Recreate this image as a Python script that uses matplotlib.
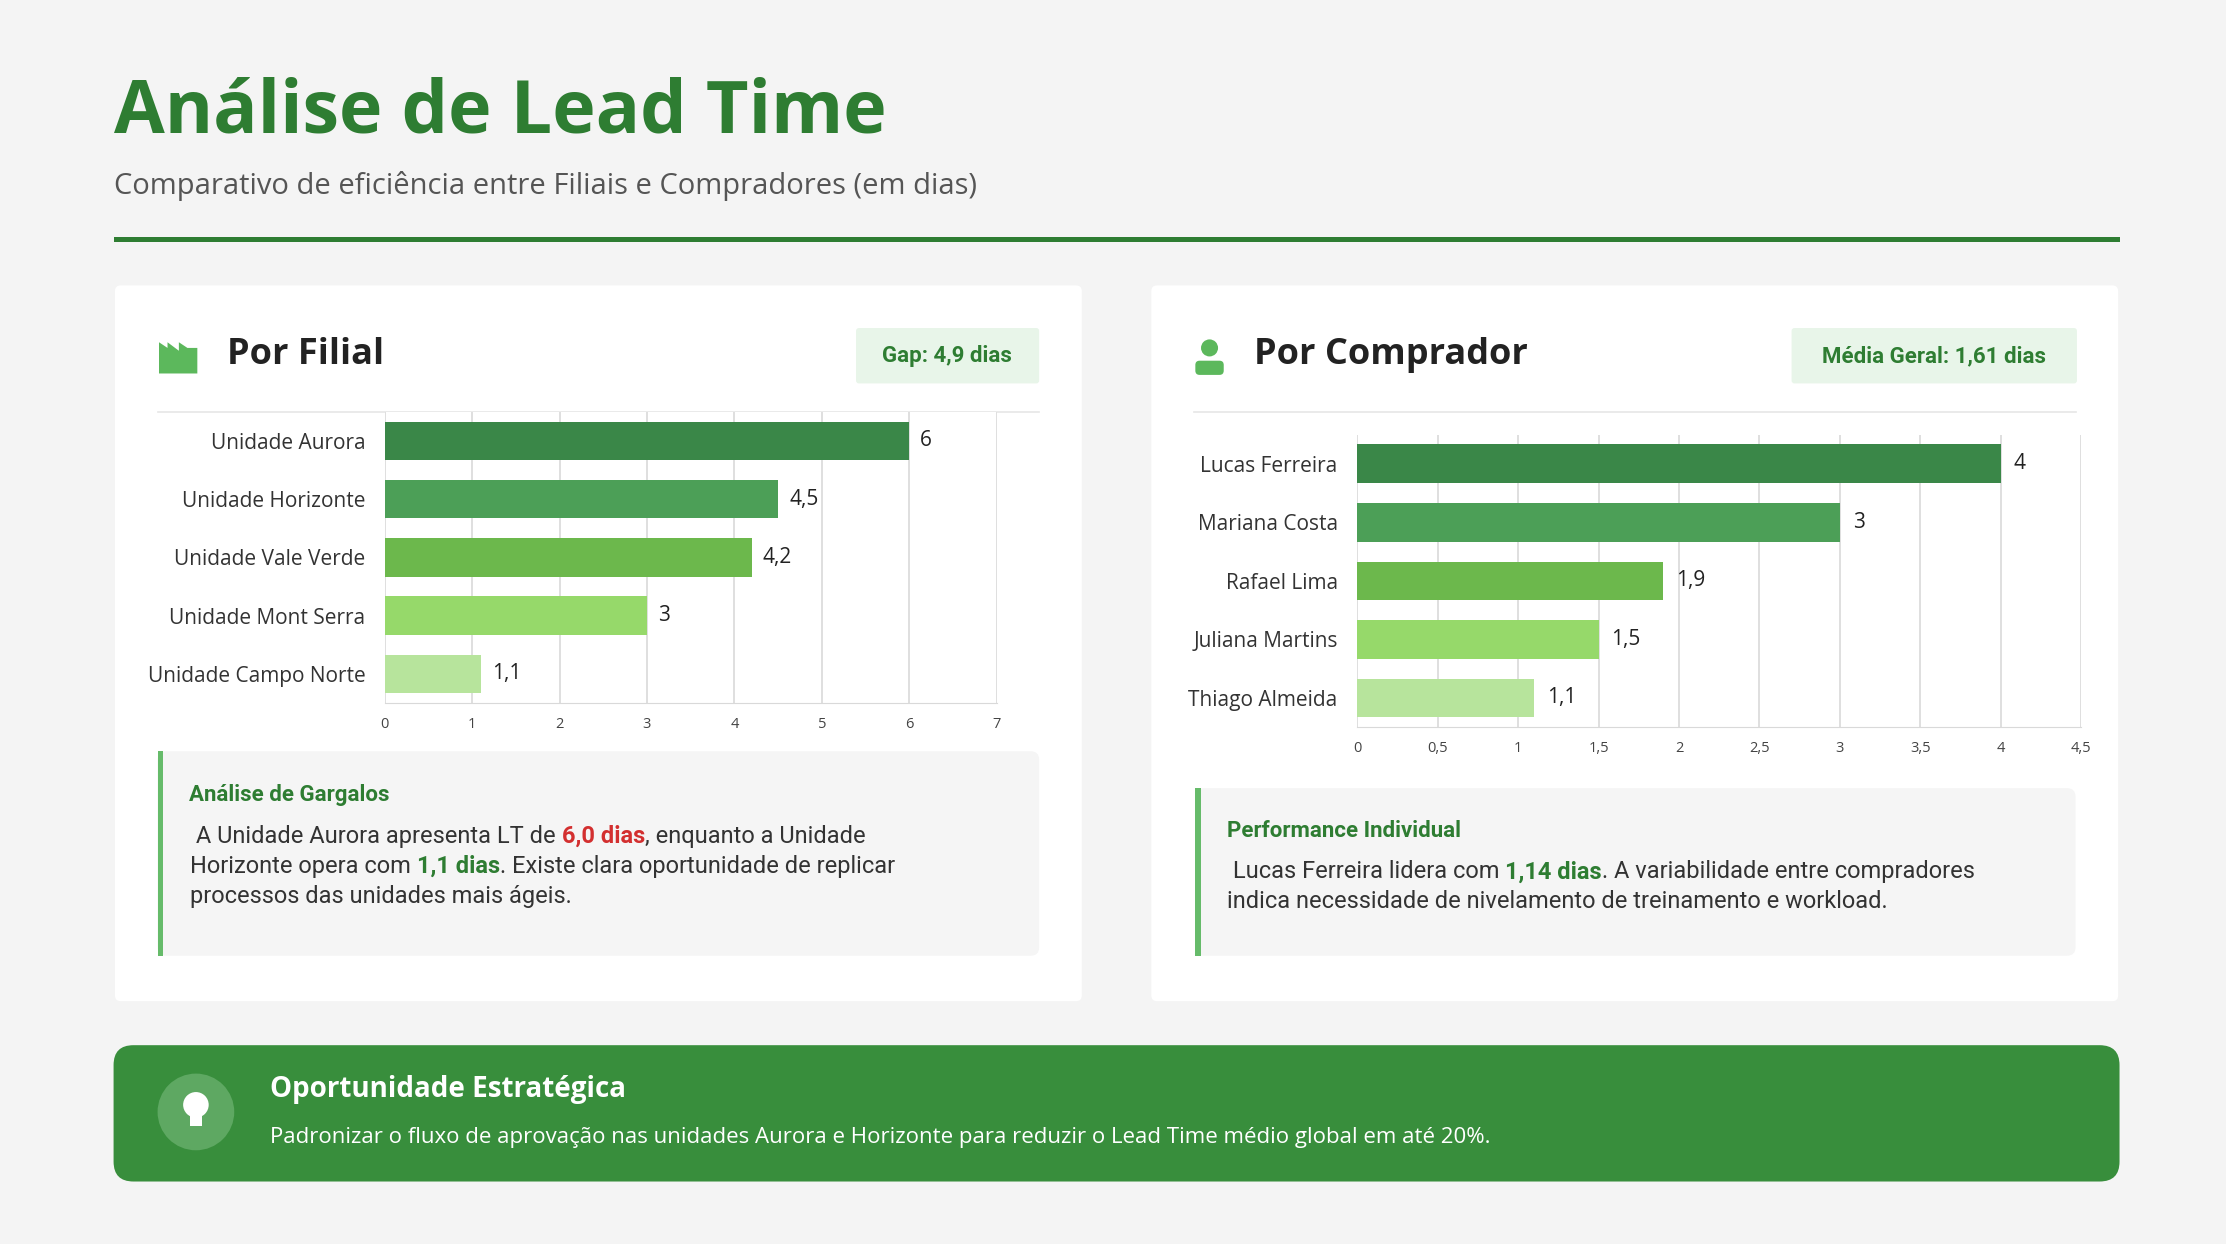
import matplotlib
matplotlib.use("Agg")
from matplotlib import pyplot as plt
from matplotlib.patches import FancyBboxPatch, Rectangle, Circle, Polygon

# data
filiais = ["Unidade Aurora", "Unidade Horizonte", "Unidade Vale Verde", "Unidade Mont Serra", "Unidade Campo Norte"]
lt_filial = [6, 4.5, 4.2, 3, 1.1]
compradores = ["Lucas Ferreira", "Mariana Costa", "Rafael Lima", "Juliana Martins", "Thiago Almeida"]
lt_comprador = [4, 3, 1.9, 1.5, 1.1]
bar_colors = ["#3a8748", "#4c9f57", "#6cb84c", "#96d96a", "#b7e49c"]

W, H = 1568.0, 876.0
GREEN = "#2e7d32"
plt.rcParams['font.family'] = ['Roboto', 'DejaVu Sans']

fig = plt.figure(figsize=(22.26, 12.44), dpi=100)
fig.patch.set_facecolor("#f4f4f4")
bg = fig.add_axes([0, 0, 1, 1])
bg.set_xlim(0, W)
bg.set_ylim(H, 0)
bg.axis("off")


def box(x0, y0, x1, y1, color, r=4, z=1):
    bg.add_patch(FancyBboxPatch((x0, y0), x1 - x0, y1 - y0,
                                boxstyle="round,pad=0,rounding_size=%g" % r,
                                fc=color, ec="none", zorder=z))


def fmt(v):
    return ("%g" % v).replace(".", ",")


renderer = fig.canvas.get_renderer()


def rich(x, y, parts, size):
    for s, c, w in parts:
        t = bg.text(x, y, s, color=c, fontsize=size, fontweight=w, va="center", ha="left", zorder=5)
        bb = t.get_window_extent(renderer)
        x += bb.width / (fig.dpi * 22.26) * W


# header
bg.text(80, 80, "Análise de Lead Time", fontsize=53, fontweight="bold", color=GREEN,
        family=["Open Sans", "DejaVu Sans"], va="center")
bg.text(80, 131, "Comparativo de eficiência entre Filiais e Compradores (em dias)", fontsize=21,
        color="#555555", family=["Open Sans", "DejaVu Sans"], va="center")
bg.add_patch(Rectangle((80, 167), 1413, 3.5, fc=GREEN, ec="none"))

# cards
for cx in (81, 811):
    box(cx, 201, cx + 681, 705, "white", r=4)
    bg.plot([cx + 30, cx + 651], [290, 290], color="#e6e6e6", lw=1.2, zorder=2)

# left header
bg.add_patch(Polygon([(112, 263), (112, 241), (118, 245), (118, 241), (126, 247), (126, 241),
                      (132, 245), (139, 245), (139, 263)], fc="#5cb85c", ec="none", zorder=3))
bg.text(160, 250, "Por Filial", fontsize=26, fontweight="bold", color="#222222",
        family=["Open Sans", "DejaVu Sans"], va="center")
box(603, 231, 732, 270, "#e8f5e9", r=2, z=2)
bg.text(667, 251, "Gap: 4,9 dias", fontsize=16, fontweight="bold", color=GREEN, ha="center", va="center", zorder=3)

# right header
bg.add_patch(Circle((852, 245), 6, fc="#5cb85c", ec="none", zorder=3))
bg.add_patch(FancyBboxPatch((842, 254), 20, 10, boxstyle="round,pad=0,rounding_size=3", fc="#5cb85c", ec="none", zorder=3))
bg.text(883, 250, "Por Comprador", fontsize=26, fontweight="bold", color="#222222",
        family=["Open Sans", "DejaVu Sans"], va="center")
box(1262, 231, 1463, 270, "#e8f5e9", r=2, z=2)
bg.text(1362, 251, "Média Geral: 1,61 dias", fontsize=16, fontweight="bold", color=GREEN, ha="center", va="center", zorder=3)


def chart(x0, y0, x1, y1, cats, vals, xmax, step):
    ax = fig.add_axes([x0 / W, 1 - y1 / H, (x1 - x0) / W, (y1 - y0) / H])
    ax.set_facecolor("white")
    ys = range(len(cats))
    ax.barh(list(ys), vals, height=0.66, color=bar_colors, zorder=3)
    for i, v in enumerate(vals):
        ax.text(v + xmax * 0.018, i, fmt(v), va="center", ha="left", fontsize=15,
                family=["Open Sans", "DejaVu Sans"], color="#222222")
    ax.set_yticks(list(ys))
    ax.set_yticklabels(cats, fontsize=15, family="Open Sans", color="#333333")
    ax.invert_yaxis()
    ax.set_ylim(len(cats) - 0.5, -0.5)
    ax.set_xlim(0, xmax)
    ticks = [i * step for i in range(int(round(xmax / step)) + 1)]
    ax.set_xticks(ticks)
    ax.set_xticklabels([fmt(t) for t in ticks], fontsize=10.5, family="Open Sans", color="#444444")
    ax.grid(axis="x", color="#d9d9d9", lw=1.2, zorder=0)
    for s in ("top", "right", "left"):
        ax.spines[s].set_visible(False)
    ax.spines["bottom"].set_color("#d9d9d9")
    ax.tick_params(length=0, pad=10)
    ax.tick_params(axis="y", pad=14)
    return ax


chart(271, 290, 702, 495, filiais, lt_filial, 7, 1)
chart(956, 306, 1466, 512, compradores, lt_comprador, 4.5, 0.5)

# insight boxes
box(111, 529, 732, 673, "#f5f5f5", r=6)
bg.add_patch(Rectangle((111, 529), 4, 144, fc="#66bb6a", ec="none", zorder=2))
bg.text(133, 560, "Análise de Gargalos", fontsize=16, fontweight="bold", color=GREEN, va="center")
rich(134, 589, [(" A Unidade Aurora apresenta LT de ", "#333333", "normal"),
                ("6,0 dias", "#d32f2f", "bold"),
                (", enquanto a Unidade", "#333333", "normal")], 17)
rich(134, 610, [("Horizonte opera com ", "#333333", "normal"),
                ("1,1 dias", GREEN, "bold"),
                (". Existe clara oportunidade de replicar", "#333333", "normal")], 17)
rich(134, 631, [("processos das unidades mais ágeis.", "#333333", "normal")], 17)

box(842, 555, 1462, 673, "#f5f5f5", r=6)
bg.add_patch(Rectangle((842, 555), 4, 118, fc="#66bb6a", ec="none", zorder=2))
bg.text(864, 585, "Performance Individual", fontsize=16, fontweight="bold", color=GREEN, va="center")
rich(864, 614, [(" Lucas Ferreira lidera com ", "#333333", "normal"),
                ("1,14 dias", GREEN, "bold"),
                (". A variabilidade entre compradores", "#333333", "normal")], 17)
rich(864, 635, [("indica necessidade de nivelamento de treinamento e workload.", "#333333", "normal")], 17)

# banner
box(80, 736, 1493, 832, "#388e3c", r=14)
bg.add_patch(Circle((138, 783), 27, fc="#5ea862", ec="none", zorder=3))
bg.add_patch(Circle((138, 778), 9, fc="white", ec="none", zorder=4))
bg.add_patch(Rectangle((134, 785), 8, 8, fc="white", ec="none", zorder=4))
bg.text(190, 767, "Oportunidade Estratégica", fontsize=20, fontweight="bold", color="white",
        family=["Open Sans", "DejaVu Sans"], va="center", zorder=4)
bg.text(190, 801, "Padronizar o fluxo de aprovação nas unidades Aurora e Horizonte para reduzir o Lead Time médio global em até 20%.",
        fontsize=16, color="white", family=["Open Sans", "DejaVu Sans"], va="center", zorder=4)

fig.savefig("out.png", dpi=100, facecolor=fig.get_facecolor())
